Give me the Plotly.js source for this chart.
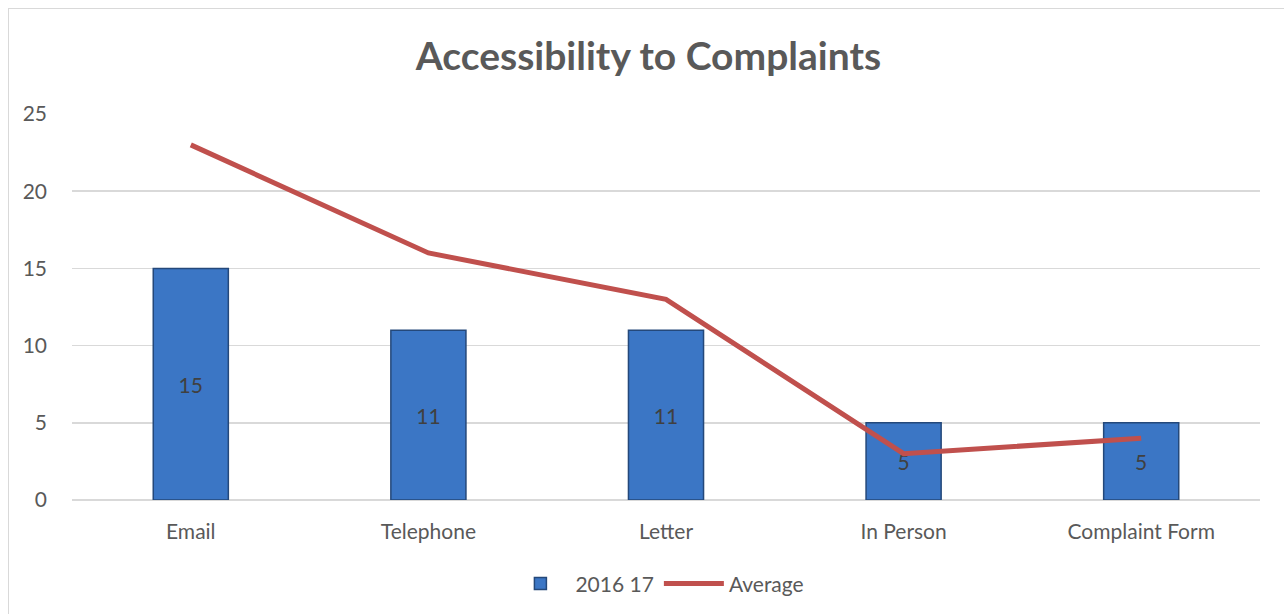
<!DOCTYPE html>
<html><head><meta charset="utf-8">
<script src="https://cdn.plot.ly/plotly-3.0.1.min.js"></script>
<style>
html,body{margin:0;padding:0;background:#fff;}
#frame{position:absolute;left:8px;top:8px;width:1290px;height:620px;border:1px solid #d9d9d9;box-sizing:border-box;}
#chart{position:absolute;left:0;top:0;width:1284px;height:614px;}
</style></head>
<body>
<div id="frame"></div>
<div id="chart"></div>
<script>
const categories = ["Email", "Telephone", "Letter", "In Person", "Complaint Form"];
const values2016 = [15, 11, 11, 5, 5];
const averageValues = [23, 16, 13, 3, 4];
const seriesNames = ["2016 17", "Average"];
const yTicks = [0, 5, 10, 15, 20, 25];

const font = "Lato, 'Open Sans', sans-serif";
const traces = [
  {
    type: "bar", x: categories, y: values2016, name: seriesNames[0],
    width: 0.316,
    marker: {color: "#3b76c5", line: {color: "#24487a", width: 1.5}},
    text: values2016.map(String), textposition: "inside", insidetextanchor: "middle",
    textfont: {family: font, size: 21, color: "#404040"},
    hoverinfo: "x+y"
  },
  {
    type: "scatter", mode: "lines", x: categories, y: averageValues, name: seriesNames[1],
    line: {color: "#c0504d", width: 5}
  }
];
const layout = {
  width: 1284, height: 614,
  paper_bgcolor: "rgba(0,0,0,0)", plot_bgcolor: "rgba(0,0,0,0)",
  margin: {l: 72, r: 24, t: 114, b: 114},
  title: {text: "<b>Accessibility to Complaints</b>", x: 0.505, xanchor: "center", y: 0.908, yanchor: "middle",
          font: {family: font, size: 39, color: "#595959"}},
  xaxis: {tickfont: {family: font, size: 21, color: "#595959"}, showgrid: false, zeroline: false,
          showline: false, ticks: "", ticklabelstandoff: 17},
  yaxis: {range: [0, 25], tickvals: yTicks, tickfont: {family: font, size: 21, color: "#595959"},
          showgrid: true, gridcolor: "#d9d9d9", gridwidth: 1.5, zeroline: true, zerolinecolor: "#d9d9d9", zerolinewidth: 1.5,
          ticklabelstandoff: 24, fixedrange: true},
  legend: {orientation: "h", x: 0.512, xanchor: "center", xref: "container", y: 0.049, yref: "container", yanchor: "middle",
           font: {family: font, size: 21, color: "#595959"}, itemwidth: 60},
  showlegend: true
};
Plotly.newPlot("chart", traces, layout, {displayModeBar: false, staticPlot: true});
</script>
</body></html>
